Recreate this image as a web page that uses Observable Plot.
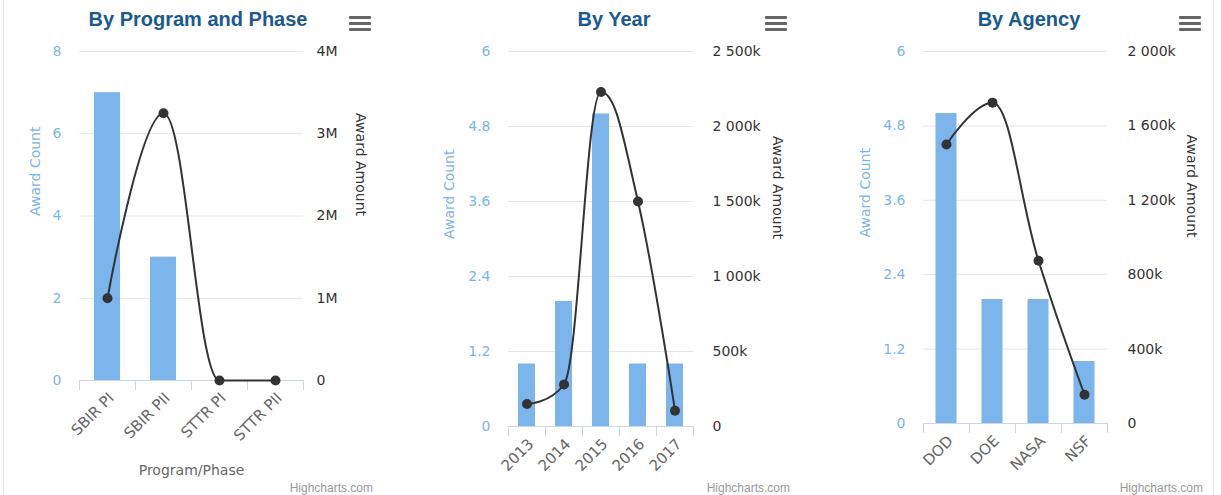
<!DOCTYPE html>
<html>
<head>
<meta charset="utf-8">
<script src="https://cdn.jsdelivr.net/npm/d3@7"></script>
<script src="https://cdn.jsdelivr.net/npm/@observablehq/plot@0.6"></script>
<style>
  html, body { margin: 0; padding: 0; background: #fff; }
  #page { position: relative; width: 1221px; height: 495px; overflow: hidden; background: #fff; }
  .title { position: absolute; top: 7px; width: 320px; text-align: center; font: bold 20px "Liberation Sans", Arial, sans-serif; color: #1a5a8e; line-height: 24px; }
  .menu { position: absolute; top: 16px; width: 22px; height: 15px; }
  .menu span { position: absolute; left: 0; width: 22px; height: 3px; background: #666; border-radius: 1px; }
  .credit { position: absolute; top: 481px; width: 120px; text-align: right; font: 12px "Liberation Sans", Arial, sans-serif; color: #999; }
  .border { position: absolute; top: 0; width: 1px; height: 495px; background: #e6e6e6; }
  svg.panel { position: absolute; top: 36px; overflow: visible; }
</style>
</head>
<body>
<div id="page"></div>
<script>
// ---------- data ----------
const programCategories = ["SBIR PI", "SBIR PII", "STTR PI", "STTR PII"];
const programCounts = [7, 3, 0, 0];
const programAmounts = [1000000, 3250000, 0, 0];
const programCountTicks = [0, 2, 4, 6, 8];
const programAmountTicks = [0, 1000000, 2000000, 3000000, 4000000];
const programAmountLabels = ["0", "1M", "2M", "3M", "4M"];

const yearCategories = ["2013", "2014", "2015", "2016", "2017"];
const yearCounts = [1, 2, 5, 1, 1];
const yearAmounts = [150000, 280000, 2230000, 1500000, 105000];
const yearCountTicks = [0, 1.2, 2.4, 3.6, 4.8, 6];
const yearAmountTicks = [0, 500000, 1000000, 1500000, 2000000, 2500000];
const yearAmountLabels = ["0", "500k", "1 000k", "1 500k", "2 000k", "2 500k"];

const agencyCategories = ["DOD", "DOE", "NASA", "NSF"];
const agencyCounts = [5, 2, 2, 1];
const agencyAmounts = [1500000, 1725000, 875000, 155000];
const agencyCountTicks = [0, 1.2, 2.4, 3.6, 4.8, 6];
const agencyAmountTicks = [0, 400000, 800000, 1200000, 1600000, 2000000];
const agencyAmountLabels = ["0", "400k", "800k", "1 200k", "1 600k", "2 000k"];

const panelTitles = ["By Program and Phase", "By Year", "By Agency"];
const countTitle = "Award Count";
const amountTitle = "Award Amount";
const programAxisTitle = "Program/Phase";
const creditText = "Highcharts.com";

// ---------- Highcharts-like spline curve ----------
function HCSpline(context) { this._context = context; }
HCSpline.prototype = {
  areaStart() {}, areaEnd() {},
  lineStart() { this._pts = []; },
  point(x, y) { this._pts.push([+x, +y]); },
  lineEnd() {
    const p = this._pts, ctx = this._context, s = 1.5, den = s + 1;
    if (!p.length) return;
    ctx.moveTo(p[0][0], p[0][1]);
    let prevR = p[0].slice();
    for (let i = 1; i < p.length; i++) {
      const [x, y] = p[i];
      let lx = x, ly = y, rx = x, ry = y;
      if (i < p.length - 1) {
        const [px, py] = p[i - 1], [nx, ny] = p[i + 1];
        lx = (s * x + px) / den; ly = (s * y + py) / den;
        rx = (s * x + nx) / den; ry = (s * y + ny) / den;
        let corr = 0;
        if (rx !== lx) corr = ((ry - ly) * (rx - x)) / (rx - lx) + y - ry;
        ly += corr; ry += corr;
        if (ly > py && ly > y) { ly = Math.max(py, y); ry = 2 * y - ly; }
        else if (ly < py && ly < y) { ly = Math.min(py, y); ry = 2 * y - ly; }
        if (ry > ny && ry > y) { ry = Math.max(ny, y); ly = 2 * y - ry; }
        else if (ry < ny && ry < y) { ry = Math.min(ny, y); ly = 2 * y - ry; }
      }
      ctx.bezierCurveTo(prevR[0], prevR[1], lx, ly, x, y);
      prevR = [rx, ry];
    }
  }
};
const hcSpline = ctx => new HCSpline(ctx);

// ---------- panel builder ----------
function panel(cfg) {
  const {categories, counts, amounts, countTicks, amountTicks, amountLabels,
         marginLeft, marginRight, marginBottom, inset, leftTitleDx, rightTitleDx, rightTickPad, xTitle} = cfg;
  const n = categories.length;
  const cMax = countTicks[countTicks.length - 1];
  const aMax = amountTicks[amountTicks.length - 1];
  const k = cMax / aMax;
  const data = categories.map((c, i) => ({c, i, count: counts[i], amount: amounts[i]}));
  const marks = [
    Plot.gridY({ticks: countTicks, stroke: "#e6e6e6", strokeOpacity: 1}),
    Plot.rectY(data, {x1: "i", x2: d => d.i + 1, y: "count", fill: "#7cb5ec", insetLeft: inset, insetRight: inset}),
    Plot.ruleY([0], {stroke: "#ccd6eb"}),
    Plot.axisX({ticks: d3.range(n + 1), tickSize: 10, stroke: "#ccd6eb", strokeOpacity: 1, tickFormat: () => "", label: null}),
    Plot.axisX({ticks: categories.map((_, i) => i + 0.5), tickFormat: v => categories[Math.round(v - 0.5)],
                tickSize: 0, tickPadding: 15, dx: 4, tickRotate: -45, fill: "#666", fontSize: 15, label: null}),
    Plot.axisY({ticks: countTicks, tickSize: 0, tickPadding: 18, fill: "#7cb5ec", label: null, tickFormat: d => String(d)}),
    Plot.axisY({anchor: "right", ticks: amountTicks.map(a => a * k), tickSize: 0, tickPadding: rightTickPad,
                tickFormat: v => amountLabels[amountTicks.findIndex(a => Math.abs(a * k - v) < 1e-9)],
                fill: "#333", label: null}),
    Plot.line(data, {x: d => d.i + 0.5, y: d => d.amount * k, curve: hcSpline, stroke: "#333", strokeWidth: 2}),
    Plot.dot(data, {x: d => d.i + 0.5, y: d => d.amount * k, r: 5, fill: "#333", stroke: null}),
    Plot.text([countTitle], {frameAnchor: "left", rotate: -90, dx: leftTitleDx, fill: "#7cb5ec", fontSize: 14}),
    Plot.text([amountTitle], {frameAnchor: "right", rotate: 90, dx: rightTitleDx, fill: "#333", fontSize: 14})
  ];
  if (xTitle) marks.push(Plot.text([xTitle], {frameAnchor: "bottom", lineAnchor: "middle", dy: 90, fill: "#666", fontSize: 14}));
  const svg = Plot.plot({
    width: 407, height: 459,
    marginTop: 15, marginLeft, marginRight, marginBottom,
    style: {fontFamily: "DejaVu Sans", fontSize: "14px", background: "transparent", overflow: "visible"},
    x: {type: "linear", domain: [0, n]},
    y: {domain: [0, cMax]},
    marks
  });
  svg.classList.add("panel");
  return svg;
}

const page = document.getElementById("page");
const configs = [
  {left: 0, categories: programCategories, counts: programCounts, amounts: programAmounts,
   countTicks: programCountTicks, amountTicks: programAmountTicks, amountLabels: programAmountLabels,
   marginLeft: 79, marginRight: 104, marginBottom: 115, inset: 15, leftTitleDx: -44, rightTitleDx: 57, rightTickPad: 13,
   xTitle: programAxisTitle, titleCenter: 198, menuLeft: 349, creditRight: 373},
  {left: 407, categories: yearCategories, counts: yearCounts, amounts: yearAmounts,
   countTicks: yearCountTicks, amountTicks: yearAmountTicks, amountLabels: yearAmountLabels,
   marginLeft: 101, marginRight: 121, marginBottom: 69, inset: 10, leftTitleDx: -59, rightTitleDx: 84, rightTickPad: 19,
   titleCenter: 614, menuLeft: 765, creditRight: 790},
  {left: 814, categories: agencyCategories, counts: agencyCounts, amounts: agencyAmounts,
   countTicks: agencyCountTicks, amountTicks: agencyAmountTicks, amountLabels: agencyAmountLabels,
   marginLeft: 109, marginRight: 114, marginBottom: 72, inset: 12.5, leftTitleDx: -58, rightTitleDx: 84, rightTickPad: 20,
   titleCenter: 1029, menuLeft: 1179, creditRight: 1203}
];

configs.forEach((cfg, idx) => {
  const svg = panel(cfg);
  svg.style.left = cfg.left + "px";
  page.appendChild(svg);
  const t = document.createElement("div");
  t.className = "title";
  t.textContent = panelTitles[idx];
  t.style.left = (cfg.titleCenter - 160) + "px";
  page.appendChild(t);
  const m = document.createElement("div");
  m.className = "menu";
  m.style.left = cfg.menuLeft + "px";
  m.innerHTML = '<span style="top:0"></span><span style="top:6px"></span><span style="top:12px"></span>';
  page.appendChild(m);
  const c = document.createElement("div");
  c.className = "credit";
  c.textContent = creditText;
  c.style.left = (cfg.creditRight - 120) + "px";
  page.appendChild(c);
});
[3, 1213].forEach(x => {
  const b = document.createElement("div");
  b.className = "border";
  b.style.left = x + "px";
  page.appendChild(b);
});
</script>
</body>
</html>
